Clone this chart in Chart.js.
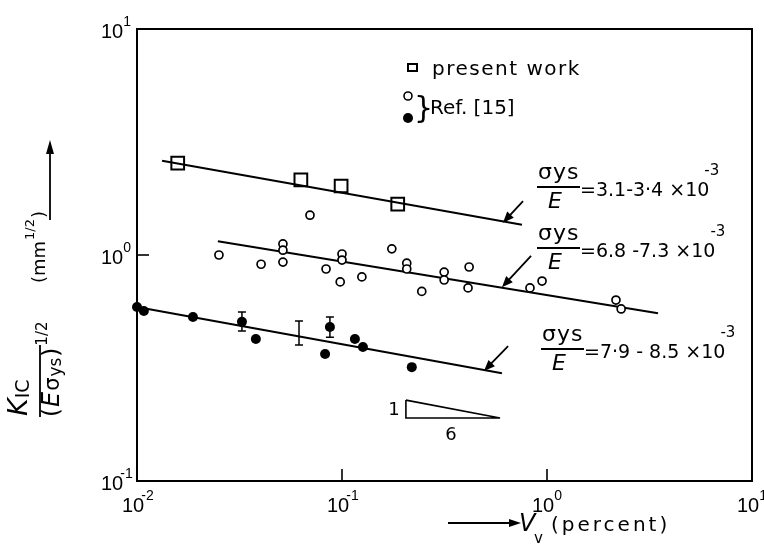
<!DOCTYPE html>
<html>
<head>
<meta charset="utf-8">
<script src="https://cdn.jsdelivr.net/npm/chart.js@4.4.1/dist/chart.umd.min.js"></script>
<style>
  body { margin: 0; background: #fff; }
</style>
</head>
<body>
<canvas id="grafico" width="764" height="544"></canvas>
<script>
// present work (squares)
const presenteX = [0.0158, 0.063, 0.099, 0.187];
const presenteY = [2.55, 2.15, 2.02, 1.68];

// Ref. [15] - open circles
const abertoX = [0.0251, 0.0403, 0.0515, 0.0515, 0.0515, 0.0698, 0.0836, 0.1, 0.1, 0.098, 0.125, 0.175,
                 0.207, 0.207, 0.245, 0.315, 0.315, 0.417, 0.412, 0.826, 0.946, 2.17, 2.30];
const abertoY = [1.0, 0.91, 1.12, 1.05, 0.93, 1.50, 0.867, 1.01, 0.95, 0.76, 0.80, 1.065,
                 0.92, 0.867, 0.69, 0.84, 0.775, 0.885, 0.715, 0.715, 0.767, 0.632, 0.577];

// Ref. [15] - filled circles
const cheioX = [0.01, 0.0108, 0.01875, 0.0325, 0.038, 0.0873, 0.0827, 0.1156, 0.1265, 0.219];
const cheioY = [0.589, 0.565, 0.532, 0.506, 0.425, 0.48, 0.365, 0.425, 0.392, 0.319];

// scatter bands (x, low, high)
const erroX = [0.0325, 0.0617, 0.0873];
const erroMin = [0.461, 0.40, 0.433];
const erroMax = [0.56, 0.51, 0.532];

// fitted lines, one per sigma_ys/E range
const reta1X = [0.01325, 0.755], reta1Y = [2.61, 1.36];
const reta2X = [0.0248, 3.48],  reta2Y = [1.15, 0.553];
const reta3X = [0.01, 0.603],   reta3Y = [0.589, 0.30];

// slope triangle 1:6
const trianguloX = [0.205, 0.59, 0.205, 0.205];
const trianguloY = [0.228, 0.19, 0.19, 0.228];

// arrows from the labels to the lines: [tail, head]
const setasX = [[0.764, 0.61], [0.836, 0.603], [0.646, 0.493]];
const setasY = [[1.73, 1.39], [0.99, 0.72], [0.395, 0.307]];

// decades shown on the axes
const ticksX = [0.01, 0.1, 1, 10];
const expX = ['-2', '-1', '0', '1'];
const ticksY = [0.1, 1, 10];
const expY = ['-1', '0', '1'];

// ratio labels
const rotulos = ['=3.1-3\u00b74 \u00d710', '=6.8 -7.3 \u00d710', '=7\u00b79 - 8.5 \u00d710'];

const pontos = (xs, ys) => xs.map((x, i) => ({ x: x, y: ys[i] }));

const fonte = 'DejaVu Sans';

function pot(ctx, x, y, exp, tam) {
    // "10" with a raised exponent, x is the left edge
    ctx.font = tam + 'px "Liberation Sans"';
    ctx.textAlign = 'left';
    ctx.fillText('10', x, y);
    const w = ctx.measureText('10').width;
    ctx.font = Math.round(tam * 0.7) + 'px "Liberation Sans"';
    ctx.fillText(exp, x + w - (exp.length > 1 ? 3 : 0), y - tam * 0.62);
}

function seta(ctx, x1, y1, x2, y2, comp, larg) {
    const ang = Math.atan2(y2 - y1, x2 - x1);
    ctx.beginPath();
    ctx.moveTo(x1, y1);
    ctx.lineTo(x2 - Math.cos(ang) * comp * 0.6, y2 - Math.sin(ang) * comp * 0.6);
    ctx.stroke();
    ctx.beginPath();
    ctx.moveTo(x2, y2);
    ctx.lineTo(x2 - Math.cos(ang) * comp + Math.sin(ang) * larg, y2 - Math.sin(ang) * comp - Math.cos(ang) * larg);
    ctx.lineTo(x2 - Math.cos(ang) * comp - Math.sin(ang) * larg, y2 - Math.sin(ang) * comp + Math.cos(ang) * larg);
    ctx.closePath();
    ctx.fill();
}

const extras = {
    id: 'extras',
    afterDatasetsDraw(chart) {
        const ctx = chart.ctx;
        const area = chart.chartArea;
        const sx = chart.scales.x, sy = chart.scales.y;
        ctx.save();
        ctx.strokeStyle = '#000';
        ctx.fillStyle = '#000';
        ctx.textBaseline = 'alphabetic';

        // frame
        ctx.lineWidth = 2;
        ctx.strokeRect(area.left, area.top, area.right - area.left, area.bottom - area.top);

        // inner ticks
        ctx.lineWidth = 1.6;
        ticksX.forEach(v => {
            if (v <= 0.01 || v >= 10) return;
            const px = sx.getPixelForValue(v);
            ctx.beginPath(); ctx.moveTo(px, area.bottom); ctx.lineTo(px, area.bottom - 12); ctx.stroke();
        });
        ticksY.forEach(v => {
            if (v <= 0.1 || v >= 10) return;
            const py = sy.getPixelForValue(v);
            ctx.beginPath(); ctx.moveTo(area.left, py); ctx.lineTo(area.left + 12, py); ctx.stroke();
        });

        // tick labels
        ticksX.forEach((v, i) => {
            const px = sx.getPixelForValue(v);
            pot(ctx, px - 15, area.bottom + 31, expX[i], 20);
        });
        ticksY.forEach((v, i) => {
            const py = sy.getPixelForValue(v);
            pot(ctx, area.left - 36, py + 9, expY[i], 20);
        });

        // scatter bands
        ctx.lineWidth = 1.5;
        erroX.forEach((v, i) => {
            const px = sx.getPixelForValue(v);
            const a = sy.getPixelForValue(erroMax[i]), b = sy.getPixelForValue(erroMin[i]);
            ctx.beginPath();
            ctx.moveTo(px, a); ctx.lineTo(px, b);
            ctx.moveTo(px - 4, a); ctx.lineTo(px + 4, a);
            ctx.moveTo(px - 4, b); ctx.lineTo(px + 4, b);
            ctx.stroke();
        });

        // arrows to the lines
        ctx.lineWidth = 1.8;
        setasX.forEach((xs, i) => {
            seta(ctx, sx.getPixelForValue(xs[0]), sy.getPixelForValue(setasY[i][0]),
                 sx.getPixelForValue(xs[1]), sy.getPixelForValue(setasY[i][1]), 11, 4.5);
        });

        // sigma_ys / E labels
        const barras = [187, 248, 349];
        const inicio = [537, 537, 541];
        barras.forEach((by, i) => {
            const x0 = inicio[i];
            ctx.lineWidth = 1.8;
            ctx.beginPath(); ctx.moveTo(x0, by); ctx.lineTo(x0 + 43, by); ctx.stroke();
            ctx.font = '22px "' + fonte + '"';
            ctx.letterSpacing = '1px';
            ctx.textAlign = 'left';
            ctx.fillText('\u03c3ys', x0 + 1, by - 8);
            ctx.letterSpacing = '0px';
            ctx.font = 'italic 22px "' + fonte + '"';
            ctx.fillText('E', x0 + 11, by + 21);
            ctx.font = '19px "' + fonte + '"';
            ctx.fillText(rotulos[i], x0 + 43, by + 9);
            const w = ctx.measureText(rotulos[i]).width;
            ctx.font = '15px "' + fonte + '"';
            ctx.fillText('-3', x0 + 43 + w - 5, by - 12);
        });

        // slope triangle numbers
        ctx.font = '18px "' + fonte + '"';
        ctx.textAlign = 'center';
        ctx.fillText('1', 394, 415);
        ctx.fillText('6', 451, 440);

        // legend
        ctx.lineWidth = 2;
        ctx.strokeRect(408, 64, 9, 7);
        ctx.textAlign = 'left';
        ctx.font = '20px "' + fonte + '"';
        ctx.letterSpacing = '1.5px';
        ctx.fillText('present work', 432, 75);
        ctx.letterSpacing = '0px';
        ctx.lineWidth = 1.6;
        ctx.beginPath(); ctx.arc(408, 96, 4, 0, Math.PI * 2); ctx.stroke();
        ctx.beginPath(); ctx.arc(408, 118, 5, 0, Math.PI * 2); ctx.fill();
        ctx.font = '30px "' + fonte + '"';
        ctx.fillText('}', 414, 118);
        ctx.font = '20px "' + fonte + '"';
        ctx.fillText('Ref. [15]', 430, 114);

        // x axis title
        ctx.lineWidth = 1.8;
        seta(ctx, 448, 523, 521, 523, 12, 4);
        ctx.font = 'italic 24px "' + fonte + '"';
        ctx.fillText('V', 519, 531);
        ctx.font = '15px "' + fonte + '"';
        ctx.fillText('v', 534, 543);
        ctx.font = '20px "' + fonte + '"';
        ctx.letterSpacing = '3px';
        ctx.fillText('(percent)', 551, 531);
        ctx.letterSpacing = '0px';

        // y axis title, rotated
        ctx.save();
        ctx.translate(40, 417);
        ctx.rotate(-Math.PI / 2);
        ctx.textAlign = 'left';
        ctx.font = 'italic 27px "' + fonte + '"';
        ctx.fillText('K', 1, -13);
        let kw = ctx.measureText('K').width;
        ctx.font = '19px "' + fonte + '"';
        ctx.fillText('IC', 1 + kw, -11);
        ctx.lineWidth = 1.8;
        ctx.beginPath(); ctx.moveTo(0, 0); ctx.lineTo(72, 0); ctx.stroke();
        let cx = 0;
        const parte = (txt, f, dy) => {
            ctx.font = f;
            ctx.fillText(txt, cx, dy);
            cx += ctx.measureText(txt).width + 1;
        };
        parte('(', '23px "' + fonte + '"', 19);
        parte('E', 'italic 24px "' + fonte + '"', 19);
        parte('\u03c3', '21px "' + fonte + '"', 19);
        parte('ys', '17px "' + fonte + '"', 21);
        parte(')', '23px "' + fonte + '"', 19);
        cx += 1;
        parte('1/2', '15px "' + fonte + '"', 7);
        cx = 134;
        parte('(mm', '18px "' + fonte + '"', 5);
        parte('1/2', '13px "' + fonte + '"', -6);
        parte(')', '18px "' + fonte + '"', 5);
        ctx.restore();
        ctx.lineWidth = 1.8;
        seta(ctx, 50, 220, 50, 140, 14, 4);

        ctx.restore();
    }
};

const dados = {
    datasets: [
        {
            label: 'present work',
            data: pontos(presenteX, presenteY),
            pointStyle: 'rect', pointRadius: 9, borderWidth: 2,
            borderColor: '#000', backgroundColor: 'rgba(0,0,0,0)', clip: false
        },
        {
            label: 'Ref. [15]',
            data: pontos(abertoX, abertoY),
            pointStyle: 'circle', pointRadius: 4, borderWidth: 1.7,
            borderColor: '#000', backgroundColor: '#fff', clip: false
        },
        {
            label: 'Ref. [15]',
            data: pontos(cheioX, cheioY),
            pointStyle: 'circle', pointRadius: 5, borderWidth: 0,
            borderColor: '#000', backgroundColor: '#000', clip: false
        },
        { data: pontos(reta1X, reta1Y), showLine: true, borderColor: '#000', borderWidth: 2, pointRadius: 0 },
        { data: pontos(reta2X, reta2Y), showLine: true, borderColor: '#000', borderWidth: 2, pointRadius: 0 },
        { data: pontos(reta3X, reta3Y), showLine: true, borderColor: '#000', borderWidth: 2, pointRadius: 0, clip: false },
        { data: pontos(trianguloX, trianguloY), showLine: true, borderColor: '#000', borderWidth: 1.6, pointRadius: 0 }
    ]
};

const config = {
    type: 'scatter',
    data: dados,
    options: {
        responsive: false,
        animation: false,
        layout: { padding: { left: 137, right: 12, top: 29, bottom: 63 } },
        plugins: { legend: { display: false }, tooltip: { enabled: false } },
        scales: {
            x: { type: 'logarithmic', min: 0.01, max: 10, display: false },
            y: { type: 'logarithmic', min: 0.1, max: 10, display: false }
        }
    },
    plugins: [extras]
};

const grafico = new Chart(document.getElementById('grafico'), config);
</script>
</body>
</html>
